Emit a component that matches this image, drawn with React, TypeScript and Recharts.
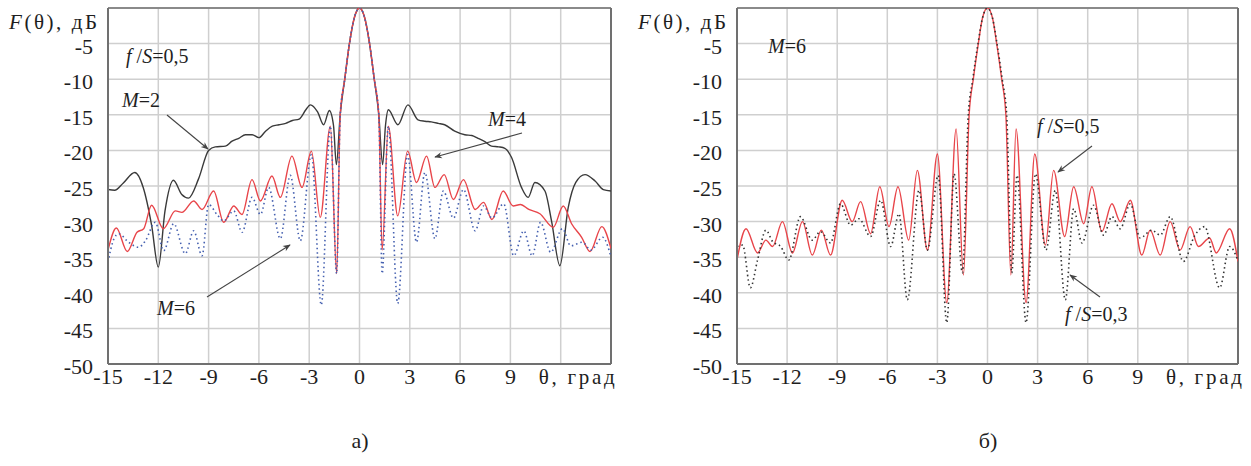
import { LineChart, Line, XAxis, YAxis, CartesianGrid, ReferenceLine } from "recharts";

type Pt = [number, number];

const xTicks = [-15, -12, -9, -6, -3, 0, 3, 6, 9, 12, 15];
const yTicks = [-50, -45, -40, -35, -30, -25, -20, -15, -10, -5, 0];

// a) f/S = 0.5, M = 2 / 4 / 6
const m2: Pt[] = [
  [-15, -25.5], [-14.6, -25.6], [-14.1, -24.6], [-13.4, -23.1], [-12.9, -25.2], [-12.4, -30.5],
  [-12.0, -36.4], [-11.6, -28.5], [-11.1, -24.2], [-10.6, -26.2], [-10.2, -26.7], [-9.6, -24.0],
  [-9.0, -20.0], [-8.6, -19.5], [-8.0, -19.4], [-7.6, -18.7], [-7.2, -18.3], [-6.8, -17.8],
  [-6.4, -17.8], [-6.0, -18.2], [-5.6, -17.3], [-5.2, -16.6], [-4.8, -16.4], [-4.4, -16.2],
  [-4.0, -15.8], [-3.6, -15.6], [-3.2, -14.3], [-2.93, -13.6], [-2.5, -14.6], [-2.14, -16.4],
  [-1.8, -14.4], [-1.55, -16.5], [-1.38, -22], [-1.15, -15], [-0.88, -10], [-0.6, -5],
  [-0.3, -1.3], [0, 0], [0.3, -1.3], [0.6, -5], [0.88, -10], [1.15, -15], [1.38, -22],
  [1.55, -16.5], [1.72, -14.3], [2.29, -16.4], [2.89, -13.6], [3.49, -15.7], [3.9, -15.9],
  [4.28, -16.0], [4.7, -16.2], [5.08, -16.4], [5.68, -17.3], [6.28, -17.8], [6.7, -17.9],
  [7.07, -18.3], [7.5, -18.8], [7.87, -19.4], [8.3, -19.5], [8.67, -19.7], [9.07, -21],
  [9.66, -25.2], [10.06, -26.6], [10.46, -24.5], [11.06, -25.7], [11.46, -30], [11.95, -36.2],
  [12.45, -28], [12.9, -24.5], [13.45, -23.4], [14.05, -24.3], [14.54, -25.5], [15, -25.7],
];

const m4: Pt[] = [
  [-15, -34.0], [-14.5, -30.9], [-13.85, -34.2], [-13.27, -31.5], [-12.87, -31.0], [-12.4, -27.7],
  [-11.7, -31.0], [-10.98, -28.5], [-10.59, -28.7], [-9.89, -27.1], [-9.39, -28.3], [-8.7, -25.7],
  [-8.1, -30.1], [-7.5, -27.8], [-7.01, -29.0], [-6.41, -24.1], [-5.91, -27.1], [-5.22, -23.6],
  [-4.72, -26.6], [-4.03, -20.8], [-3.43, -25.2], [-2.87, -20.1], [-2.34, -29.4], [-1.74, -16.6],
  [-1.36, -37.3], [-1.15, -15], [-0.88, -10], [-0.6, -5], [-0.3, -1.3], [0, 0], [0.3, -1.3],
  [0.6, -5], [0.88, -10], [1.15, -15], [1.35, -34], [1.72, -16.6], [2.28, -29.2], [2.87, -20.1],
  [3.4, -24.5], [4.0, -20.8], [4.5, -25.2], [5.05, -23.4], [5.6, -26.9], [6.2, -24.1],
  [6.9, -28.3], [7.4, -27.3], [7.9, -29.7], [8.57, -25.7], [9.16, -27.8], [9.6, -27.6],
  [10.1, -28.3], [10.76, -28.9], [11.56, -30.8], [12.15, -27.8], [12.65, -30.3], [13.25, -32.2],
  [13.75, -34.2], [14.45, -30.7], [15, -33.8],
];

const m6: Pt[] = [
  [-15, -35.7], [-14.66, -32.5], [-14.36, -31.7], [-13.77, -32.9], [-13.17, -33.6], [-12.77, -32.7],
  [-12.18, -30.1], [-11.68, -34.1], [-11.08, -30.3], [-10.39, -34.5], [-9.89, -31.3], [-9.39, -34.8],
  [-9.0, -27.6], [-8.5, -29.0], [-8.1, -29.9], [-7.5, -28.5], [-7.0, -31.5], [-6.41, -26.6],
  [-5.91, -29.0], [-5.42, -25.2], [-4.72, -32.4], [-4.13, -23.5], [-3.53, -32.7], [-2.87, -20.6],
  [-2.28, -41.7], [-1.74, -16.6], [-1.36, -37.3], [-1.15, -15], [-0.88, -10], [-0.6, -5],
  [-0.3, -1.3], [0, 0], [0.3, -1.3], [0.6, -5], [0.88, -10], [1.15, -15], [1.35, -37.3],
  [1.72, -16.6], [2.28, -41.5], [2.87, -20.6], [3.4, -32.9], [3.9, -23.1], [4.5, -32.4],
  [5.0, -25.7], [5.6, -29.5], [6.2, -25.5], [6.9, -31.3], [7.4, -27.8], [7.9, -29.5],
  [8.6, -27.5], [9.2, -34.8], [9.8, -31.3], [10.3, -34.8], [10.8, -30.1], [11.4, -34.3],
  [12.1, -31.0], [12.6, -33.4], [13.3, -32.9], [13.8, -34.0], [14.5, -32.2], [15, -35.0],
];

// б) M = 6, f/S = 0.5 / 0.3
const fs05: Pt[] = [
  [-15, -35.4], [-14.46, -31.0], [-13.77, -34.4], [-13.27, -32.6], [-12.87, -33.5], [-12.28, -30.0],
  [-11.68, -34.4], [-11.08, -30.0], [-10.49, -34.7], [-9.95, -31.2], [-9.4, -34.7], [-8.7, -27.0],
  [-8.1, -30.0], [-7.6, -27.2], [-7.0, -31.7], [-6.45, -25.1], [-5.9, -30.7], [-5.36, -25.1],
  [-4.72, -32.6], [-4.2, -22.8], [-3.6, -34.0], [-3.0, -20.5], [-2.44, -41.4], [-1.88, -17.0],
  [-1.44, -37.5], [-1.1, -15], [-0.85, -10], [-0.55, -5], [-0.3, -1.4], [0, 0], [0.3, -1.4],
  [0.55, -5], [0.85, -10], [1.1, -15], [1.4, -37.5], [1.71, -17.0], [2.31, -41.4], [2.83, -20.5],
  [3.47, -33.3], [3.96, -22.8], [4.62, -32.1], [5.16, -25.1], [5.76, -30.3], [6.25, -25.1],
  [6.85, -31.4], [7.45, -27.5], [7.95, -30.0], [8.55, -27.0], [9.24, -34.7], [9.74, -31.2],
  [10.34, -34.7], [10.94, -30.0], [11.53, -34.0], [12.13, -30.7], [12.63, -33.5], [13.3, -32.3],
  [13.7, -34.4], [14.5, -31.0], [15, -35.6],
];

const fs03: Pt[] = [
  [-15, -33.5], [-14.66, -33.3], [-14.2, -39.3], [-13.77, -35.4], [-13.27, -31.2], [-12.87, -32.8],
  [-12.38, -33.5], [-11.9, -35.4], [-11.2, -29.3], [-10.5, -32.6], [-10.0, -31.4], [-9.4, -33.0],
  [-8.8, -27.5], [-8.2, -30.5], [-7.7, -29.6], [-7.0, -32.1], [-6.4, -27.0], [-5.8, -33.5],
  [-5.3, -28.9], [-4.8, -41.0], [-4.1, -25.6], [-3.6, -34.0], [-2.95, -23.5], [-2.44, -44.2],
  [-2.0, -23.3], [-1.5, -37.2], [-1.15, -15], [-0.88, -10], [-0.57, -5], [-0.3, -1.4], [0, 0],
  [0.3, -1.4], [0.57, -5], [0.88, -10], [1.15, -15], [1.45, -37.2], [1.77, -23.5], [2.31, -44.2],
  [2.87, -23.3], [3.5, -34.0], [4.06, -25.6], [4.66, -41.0], [5.16, -28.2], [5.66, -33.0],
  [6.35, -27.7], [6.95, -31.9], [7.45, -29.3], [7.95, -31.0], [8.55, -27.5], [9.14, -32.3],
  [9.84, -31.2], [10.34, -31.9], [10.94, -29.3], [11.73, -35.6], [12.4, -32.0], [13.0, -30.7],
  [13.9, -39.3], [14.5, -33.5], [15, -35.5],
];

const rows = (pts: Pt[]) => pts.map(([t, v]) => ({ t, v }));

const FONT = "Liberation Serif, Times New Roman, DejaVu Serif, serif";
const INK = "#1e1e1e";

const YTick = ({ x, y, payload }: any) =>
  payload.value === 0 ? (
    <text x={x + 4} y={y + 21} textAnchor="end" fontSize={21} textLength={88} lengthAdjust="spacing" style={{ fontFamily: FONT }} fill={INK}>
      <tspan fontStyle="italic">F</tspan>(θ), дБ
    </text>
  ) : (
    <text x={x} y={y + 10} textAnchor="end" fontSize={22} style={{ fontFamily: FONT }} fill={INK}>
      {payload.value}
    </text>
  );

const XTick = ({ x, y, payload }: any) => {
  if (payload.value === 15) return <g />;
  if (payload.value === 12)
    return (
      <text x={x - 22} y={y + 16} textAnchor="start" fontSize={21} textLength={76} lengthAdjust="spacing" style={{ fontFamily: FONT }} fill={INK}>
        θ, град
      </text>
    );
  return (
    <text x={x} y={y + 16} textAnchor="middle" fontSize={22} style={{ fontFamily: FONT }} fill={INK}>
      {payload.value}
    </text>
  );
};

interface Series {
  name: string;
  pts: Pt[];
  color: string;
  dash?: string;
  width: number;
}

function Pattern({ width, yWidth, right, series }: { width: number; yWidth: number; right: number; series: Series[] }) {
  return (
    <LineChart width={width} height={420} margin={{ top: 8, right, bottom: 16, left: 0 }}>
      <CartesianGrid stroke="#cfcfcf" strokeWidth={1.5} />
      <XAxis
        type="number"
        dataKey="t"
        domain={[-15, 15]}
        ticks={xTicks}
        interval={0}
        height={40}
        tickSize={0}
        tickMargin={4}
        tick={<XTick />}
        axisLine={{ stroke: "#707070", strokeWidth: 2 }}
        allowDataOverflow
      />
      <YAxis
        type="number"
        domain={[-50, 0]}
        ticks={yTicks}
        interval={0}
        width={yWidth}
        tickSize={0}
        tickMargin={15}
        tick={<YTick />}
        axisLine={{ stroke: "#707070", strokeWidth: 2 }}
        allowDataOverflow
      />
      <ReferenceLine y={0} stroke="#8a8a8a" strokeWidth={2} />
      <ReferenceLine x={15} stroke="#707070" strokeWidth={2} />
      {series.map((s) => (
        <Line
          key={s.name}
          data={rows(s.pts)}
          dataKey="v"
          type="monotone"
          stroke={s.color}
          strokeWidth={s.width}
          strokeDasharray={s.dash}
          dot={false}
          isAnimationActive={false}
        />
      ))}
    </LineChart>
  );
}

const Arrow = ({ x1, y1, x2, y2 }: { x1: number; y1: number; x2: number; y2: number }) => (
  <line x1={x1} y1={y1} x2={x2} y2={y2} stroke="#444" strokeWidth={1.1} markerEnd="url(#head)" />
);

const FS = ({ x, y, v }: { x: number; y: number; v: string }) => (
  <text x={x} y={y} fontSize={20} style={{ fontFamily: FONT }} fill={INK}>
    <tspan fontStyle="italic">f</tspan> /<tspan fontStyle="italic">S</tspan>={v}
  </text>
);

const MLabel = ({ x, y, v }: { x: number; y: number; v: string }) => (
  <text x={x} y={y} fontSize={20} style={{ fontFamily: FONT }} fill={INK}>
    <tspan fontStyle="italic">M</tspan>={v}
  </text>
);

export default function App() {
  const leftSeries: Series[] = [
    { name: "M=2", pts: m2, color: "#3a3a3a", width: 1.4 },
    { name: "M=4", pts: m4, color: "#e8454a", width: 1.4 },
    { name: "M=6", pts: m6, color: "#4560b0", width: 1.6, dash: "1.5 3" },
  ];
  const rightSeries: Series[] = [
    { name: "f/S=0.5", pts: fs05, color: "#e8454a", width: 1.4 },
    { name: "f/S=0.3", pts: fs03, color: "#333", width: 1.6, dash: "1.5 3" },
  ];
  return (
    <div style={{ position: "absolute", left: 0, top: 0, width: 1251, height: 466, background: "#fff", fontFamily: FONT }}>
      <div style={{ position: "absolute", left: 0, top: 0 }}>
        <Pattern width={630} yWidth={108} right={19} series={leftSeries} />
      </div>
      <div style={{ position: "absolute", left: 630, top: 0 }}>
        <Pattern width={621} yWidth={107} right={13} series={rightSeries} />
      </div>
      <svg width={1251} height={466} style={{ position: "absolute", left: 0, top: 0, pointerEvents: "none" }}>
        <defs>
          <marker id="head" viewBox="0 0 10 10" refX="9" refY="5" markerWidth="9" markerHeight="7" orient="auto">
            <path d="M0,1 L10,5 L0,9 L3,5 Z" fill="#444" />
          </marker>
        </defs>
        <FS x={126} y={63} v="0,5" />
        <MLabel x={122} y={107} v="2" />
        <Arrow x1={167} y1={115} x2={208} y2={149} />
        <MLabel x={488} y={126} v="4" />
        <Arrow x1={522} y1={133} x2={435} y2={157} />
        <MLabel x={157} y={315} v="6" />
        <Arrow x1={207} y1={297} x2={290} y2={245} />

        <MLabel x={768} y={53} v="6" />
        <FS x={1037} y={133} v="0,5" />
        <Arrow x1={1092} y1={146} x2={1058} y2={172} />
        <FS x={1065} y={321} v="0,3" />
        <Arrow x1={1100} y1={297} x2={1070} y2={275} />

        <text x={360} y={448} textAnchor="middle" fontSize={22} style={{ fontFamily: FONT }} fill={INK}>а)</text>
        <text x={988} y={448} textAnchor="middle" fontSize={22} style={{ fontFamily: FONT }} fill={INK}>б)</text>
      </svg>
    </div>
  );
}
